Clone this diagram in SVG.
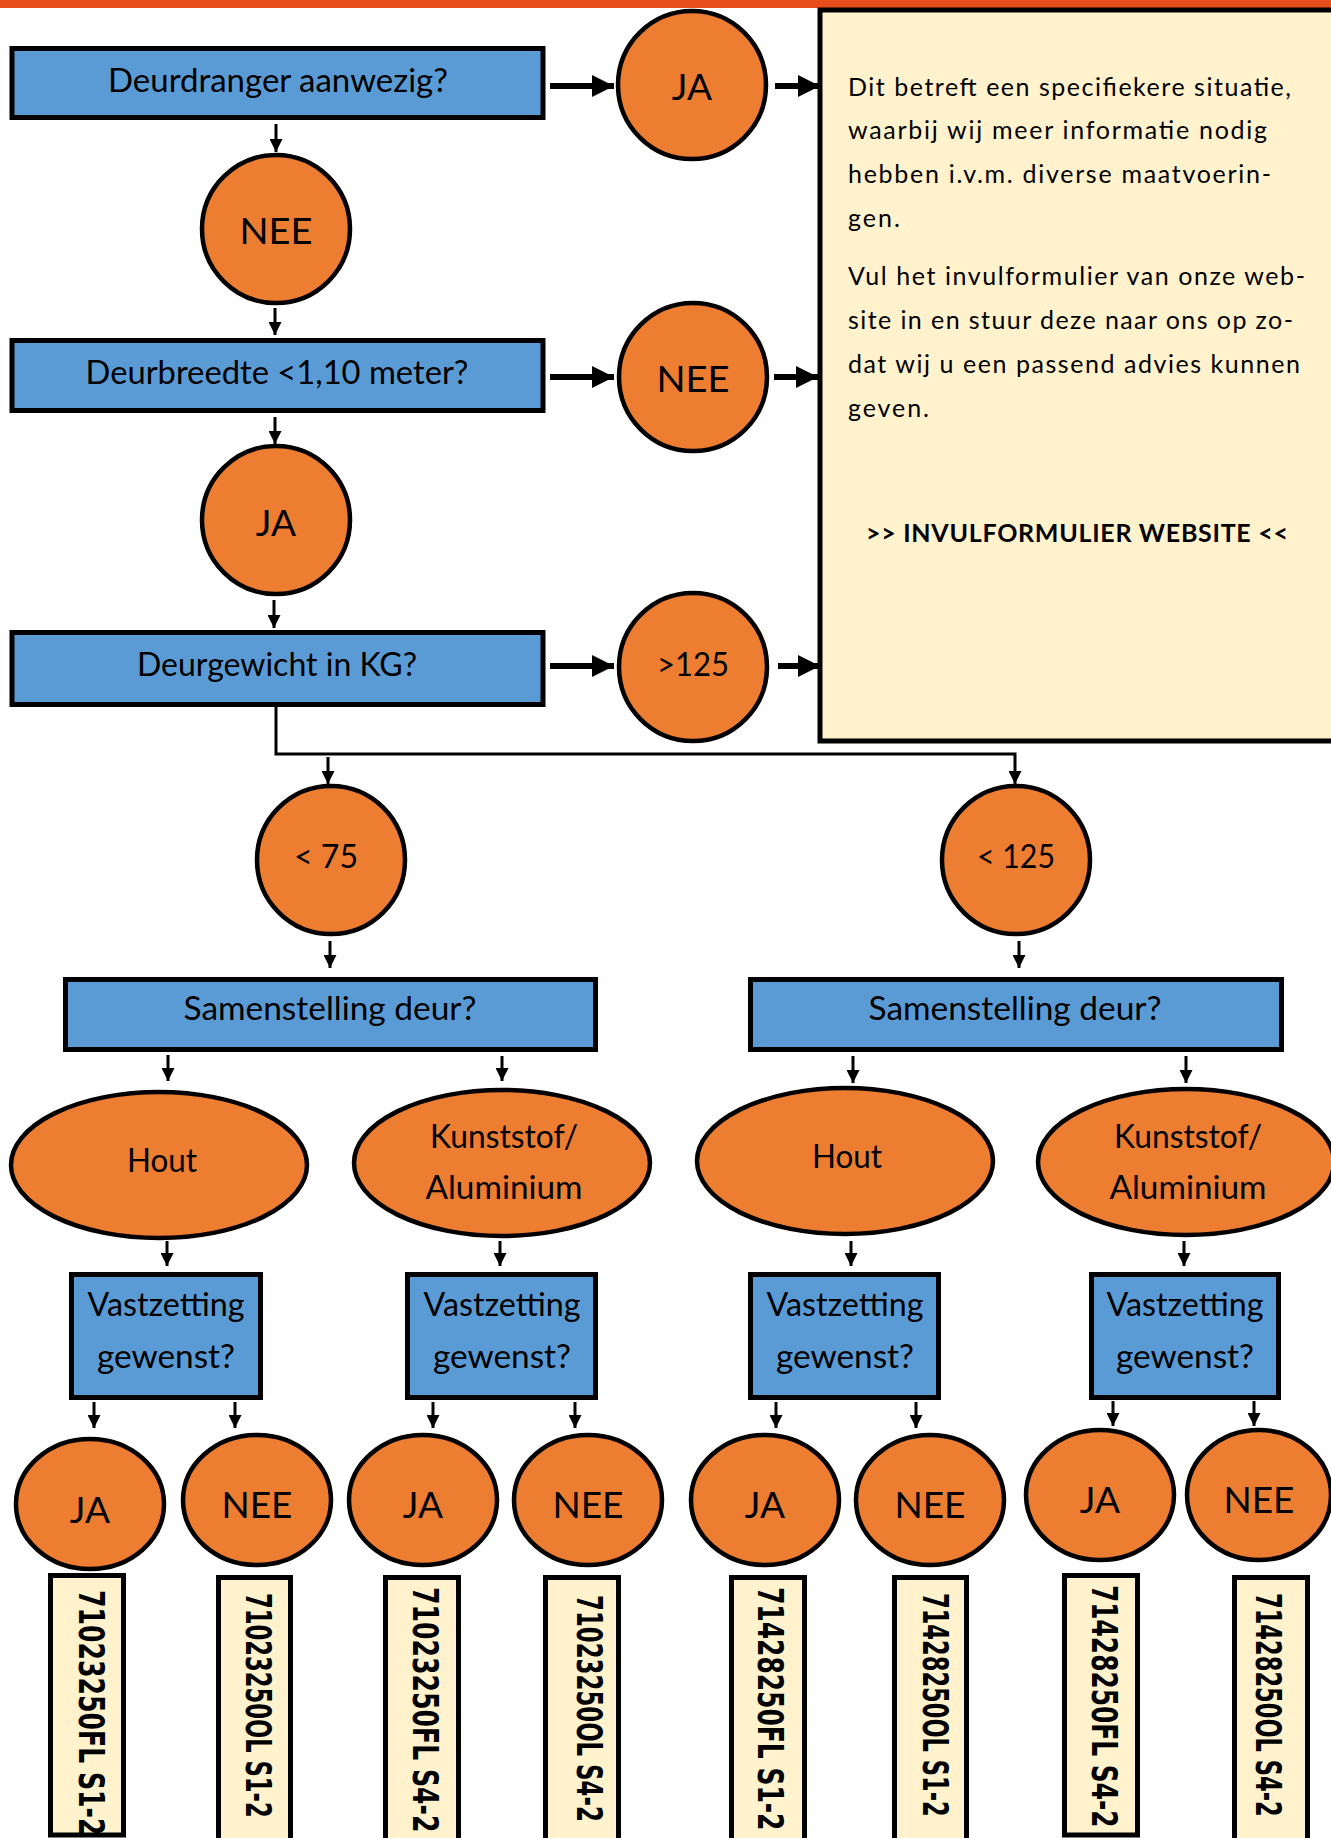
<svg xmlns="http://www.w3.org/2000/svg" width="1331" height="1838" viewBox="0 0 1331 1838">
<style>
.q{fill:#5B9BD5;stroke:#000;stroke-width:5}
.o{fill:#ED7D31;stroke:#000;stroke-width:4.5}
.y{fill:#FFF2CC;stroke:#000;stroke-width:5}
.t{font-family:Lato,"Liberation Sans",Arial,sans-serif;font-size:33px;fill:#000;text-anchor:middle}
.c{font-family:Lato,"Liberation Sans",Arial,sans-serif;font-size:37px;fill:#000;text-anchor:middle}
.p{font-family:Lato,"Liberation Sans",Arial,sans-serif;font-size:25px;fill:#000}
.b{font-family:"DejaVu Sans",Verdana,sans-serif;font-size:35px;font-weight:bold;fill:#000}
.big{stroke:#000;stroke-width:6;fill:none;marker-end:url(#ah)}
.sm{stroke:#000;stroke-width:3;fill:none;marker-end:url(#as)}
</style>
<defs>
<marker id="ah" markerUnits="userSpaceOnUse" markerWidth="22" markerHeight="22" refX="22" refY="11" orient="auto"><path d="M0,0 L22,11 L0,22 Z" fill="#000"/></marker>
<marker id="as" markerUnits="userSpaceOnUse" markerWidth="13" markerHeight="13" refX="13" refY="6.5" orient="auto"><path d="M0,0 L13,6.5 L0,13 Z" fill="#000"/></marker>
</defs>
<rect x="0" y="0" width="1331" height="8" fill="#E84E1C"/>

<g id="info">
<rect class="y" x="820" y="10" width="540" height="731"/>
<text class="p" x="848" y="96" textLength="443" lengthAdjust="spacing">Dit betreft een specifiekere situatie,</text>
<text class="p" x="848" y="139" textLength="419" lengthAdjust="spacing">waarbij wij meer informatie nodig</text>
<text class="p" x="848" y="183" textLength="423" lengthAdjust="spacing">hebben i.v.m. diverse maatvoerin-</text>
<text class="p" x="848" y="227" textLength="52" lengthAdjust="spacing">gen.</text>
<text class="p" x="848" y="285" textLength="457" lengthAdjust="spacing">Vul het invulformulier van onze web-</text>
<text class="p" x="848" y="329" textLength="445" lengthAdjust="spacing">site in en stuur deze naar ons op zo-</text>
<text class="p" x="848" y="373" textLength="452" lengthAdjust="spacing">dat wij u een passend advies kunnen</text>
<text class="p" x="848" y="417" textLength="81" lengthAdjust="spacing">geven.</text>
<text class="p" x="866" y="542" font-weight="bold" textLength="422" lengthAdjust="spacing">&gt;&gt; INVULFORMULIER WEBSITE &lt;&lt;</text>
</g>

<g id="connectors">
<line class="big" x1="550" y1="86" x2="614" y2="86"/>
<line class="big" x1="775" y1="86" x2="820" y2="86"/>
<line class="big" x1="550" y1="377" x2="614" y2="377"/>
<line class="big" x1="774" y1="377" x2="818" y2="377"/>
<line class="big" x1="550" y1="666" x2="614" y2="666"/>
<line class="big" x1="778" y1="666" x2="820" y2="666"/>
<line class="sm" x1="276" y1="124" x2="276" y2="152"/>
<line class="sm" x1="275" y1="308" x2="275" y2="335"/>
<line class="sm" x1="275" y1="417" x2="275" y2="444"/>
<line class="sm" x1="274" y1="600" x2="274" y2="628"/>
<path class="sm" d="M276,707 V754 H1015 V784"/>
<line class="sm" x1="328" y1="757" x2="328" y2="784"/>
<line class="sm" x1="330" y1="941" x2="330" y2="968"/>
<line class="sm" x1="1019" y1="941" x2="1019" y2="968"/>
<line class="sm" x1="168" y1="1055" x2="168" y2="1081"/>
<line class="sm" x1="502" y1="1056" x2="502" y2="1081"/>
<line class="sm" x1="853" y1="1056" x2="853" y2="1083"/>
<line class="sm" x1="1186" y1="1056" x2="1186" y2="1083"/>
<line class="sm" x1="167" y1="1241" x2="167" y2="1266"/>
<line class="sm" x1="500" y1="1241" x2="500" y2="1266"/>
<line class="sm" x1="851" y1="1241" x2="851" y2="1266"/>
<line class="sm" x1="1184" y1="1241" x2="1184" y2="1266"/>
<line class="sm" x1="94" y1="1402" x2="94" y2="1428"/>
<line class="sm" x1="235" y1="1402" x2="235" y2="1428"/>
<line class="sm" x1="433" y1="1402" x2="433" y2="1428"/>
<line class="sm" x1="575" y1="1402" x2="575" y2="1428"/>
<line class="sm" x1="776" y1="1402" x2="776" y2="1428"/>
<line class="sm" x1="916" y1="1402" x2="916" y2="1428"/>
<line class="sm" x1="1113" y1="1401" x2="1113" y2="1426"/>
<line class="sm" x1="1254" y1="1401" x2="1254" y2="1426"/>
</g>

<g id="q-deurdranger"><rect class="q" x="12" y="48.5" width="531" height="69"/><text class="t" x="278" y="92" textLength="340" lengthAdjust="spacingAndGlyphs">Deurdranger aanwezig?</text></g>
<g id="c-ja-1"><circle class="o" cx="692" cy="85" r="74"/><text class="c" x="692" y="100">JA</text></g>
<g id="c-nee-1"><circle class="o" cx="276" cy="229" r="74"/><text class="c" x="276" y="244" textLength="73" lengthAdjust="spacingAndGlyphs">NEE</text></g>
<g id="q-deurbreedte"><rect class="q" x="12" y="340.5" width="531" height="70"/><text class="t" x="277" y="384" textLength="383" lengthAdjust="spacingAndGlyphs">Deurbreedte &lt;1,10 meter?</text></g>
<g id="c-nee-2"><circle class="o" cx="693" cy="377" r="74"/><text class="c" x="693" y="392" textLength="73" lengthAdjust="spacingAndGlyphs">NEE</text></g>
<g id="c-ja-2"><circle class="o" cx="276" cy="520" r="74"/><text class="c" x="276" y="536">JA</text></g>
<g id="q-deurgewicht"><rect class="q" x="12" y="632.5" width="531" height="72"/><text class="t" x="277" y="676" textLength="280" lengthAdjust="spacingAndGlyphs">Deurgewicht in KG?</text></g>
<g id="c-gt125"><circle class="o" cx="693" cy="667" r="74"/><text class="t" x="693" y="676" font-size="31" textLength="72" lengthAdjust="spacingAndGlyphs">&gt;125</text></g>
<g id="c-lt75"><ellipse class="o" cx="331" cy="860" rx="74" ry="74"/><text class="t" x="326" y="868" font-size="31" textLength="64" lengthAdjust="spacingAndGlyphs">&lt; 75</text></g>
<g id="c-lt125"><ellipse class="o" cx="1016" cy="860" rx="74" ry="74"/><text class="t" x="1016" y="868" font-size="31" textLength="78" lengthAdjust="spacingAndGlyphs">&lt; 125</text></g>
<g id="q-samenstelling-1"><rect class="q" x="65.5" y="979.5" width="530" height="70"/><text class="t" x="330" y="1020" textLength="293" lengthAdjust="spacingAndGlyphs">Samenstelling deur?</text></g>
<g id="q-samenstelling-2"><rect class="q" x="750.5" y="979.5" width="531" height="70"/><text class="t" x="1015" y="1020" textLength="293" lengthAdjust="spacingAndGlyphs">Samenstelling deur?</text></g>
<g id="e-hout-1"><ellipse class="o" cx="159" cy="1165" rx="148" ry="73"/><text class="t" x="162" y="1172" textLength="70" lengthAdjust="spacingAndGlyphs">Hout</text></g>
<g id="e-kunst-1"><ellipse class="o" cx="502" cy="1163" rx="148" ry="73"/><text class="t" x="504" y="1148" textLength="148" lengthAdjust="spacingAndGlyphs">Kunststof/</text><text class="t" x="504" y="1199" textLength="157" lengthAdjust="spacingAndGlyphs">Aluminium</text></g>
<g id="e-hout-2"><ellipse class="o" cx="845" cy="1161" rx="148" ry="73"/><text class="t" x="847" y="1168" textLength="70" lengthAdjust="spacingAndGlyphs">Hout</text></g>
<g id="e-kunst-2"><ellipse class="o" cx="1186" cy="1162" rx="148" ry="73"/><text class="t" x="1188" y="1148" textLength="148" lengthAdjust="spacingAndGlyphs">Kunststof/</text><text class="t" x="1188" y="1199" textLength="157" lengthAdjust="spacingAndGlyphs">Aluminium</text></g>
<g id="q-vast-1"><rect class="q" x="71.5" y="1274.5" width="189" height="123"/><text class="t" x="166" y="1316" textLength="157" lengthAdjust="spacingAndGlyphs">Vastzetting</text><text class="t" x="166" y="1368" textLength="138" lengthAdjust="spacingAndGlyphs">gewenst?</text></g>
<g id="q-vast-2"><rect class="q" x="407.5" y="1274.5" width="188" height="123"/><text class="t" x="502" y="1316" textLength="157" lengthAdjust="spacingAndGlyphs">Vastzetting</text><text class="t" x="502" y="1368" textLength="138" lengthAdjust="spacingAndGlyphs">gewenst?</text></g>
<g id="q-vast-3"><rect class="q" x="750.5" y="1274.5" width="188" height="123"/><text class="t" x="845" y="1316" textLength="157" lengthAdjust="spacingAndGlyphs">Vastzetting</text><text class="t" x="845" y="1368" textLength="138" lengthAdjust="spacingAndGlyphs">gewenst?</text></g>
<g id="q-vast-4"><rect class="q" x="1091.5" y="1274.5" width="187" height="123"/><text class="t" x="1185" y="1316" textLength="157" lengthAdjust="spacingAndGlyphs">Vastzetting</text><text class="t" x="1185" y="1368" textLength="138" lengthAdjust="spacingAndGlyphs">gewenst?</text></g>

<g id="c-ja-a"><ellipse class="o" cx="90" cy="1504" rx="74" ry="65"/><text class="c" x="90" y="1523">JA</text></g>
<g id="c-nee-a"><ellipse class="o" cx="257" cy="1500" rx="74" ry="65"/><text class="c" x="257" y="1518" textLength="71" lengthAdjust="spacingAndGlyphs">NEE</text></g>
<g id="c-ja-b"><ellipse class="o" cx="423" cy="1500" rx="74" ry="65"/><text class="c" x="423" y="1518">JA</text></g>
<g id="c-nee-b"><ellipse class="o" cx="588" cy="1500" rx="74" ry="65"/><text class="c" x="588" y="1518" textLength="71" lengthAdjust="spacingAndGlyphs">NEE</text></g>
<g id="c-ja-c"><ellipse class="o" cx="765" cy="1500" rx="74" ry="65"/><text class="c" x="765" y="1518">JA</text></g>
<g id="c-nee-c"><ellipse class="o" cx="930" cy="1500" rx="74" ry="65"/><text class="c" x="930" y="1518" textLength="71" lengthAdjust="spacingAndGlyphs">NEE</text></g>
<g id="c-ja-d"><ellipse class="o" cx="1100" cy="1495" rx="74" ry="65"/><text class="c" x="1100" y="1513">JA</text></g>
<g id="c-nee-d"><ellipse class="o" cx="1259" cy="1495" rx="72" ry="65"/><text class="c" x="1259" y="1513" textLength="71" lengthAdjust="spacingAndGlyphs">NEE</text></g>

<g id="r-1"><rect class="y" x="50.5" y="1575.5" width="73" height="259.5"/><text class="b" transform="translate(79,1590) rotate(90) scale(0.719,1)">71023250FL S1-2</text></g>
<g id="r-2"><rect class="y" x="218.5" y="1577.5" width="72" height="270"/><text class="b" transform="translate(246,1593) rotate(90) scale(0.647,1)">71023250OL S1-2</text></g>
<g id="r-3"><rect class="y" x="385.5" y="1577.5" width="73" height="270"/><text class="b" transform="translate(413,1587) rotate(90) scale(0.719,1)">71023250FL S4-2</text></g>
<g id="r-4"><rect class="y" x="545.5" y="1577.5" width="73" height="270"/><text class="b" transform="translate(577,1595) rotate(90) scale(0.653,1)">71023250OL S4-2</text></g>
<g id="r-5"><rect class="y" x="731.5" y="1577.5" width="73" height="270"/><text class="b" transform="translate(758,1587) rotate(90) scale(0.713,1)">71428250FL S1-2</text></g>
<g id="r-6"><rect class="y" x="894.5" y="1577.5" width="72" height="270"/><text class="b" transform="translate(923,1593) rotate(90) scale(0.644,1)">71428250OL S1-2</text></g>
<g id="r-7"><rect class="y" x="1064.5" y="1575.5" width="73" height="259.5"/><text class="b" transform="translate(1092,1585) rotate(90) scale(0.710,1)">71428250FL S4-2</text></g>
<g id="r-8"><rect class="y" x="1234.5" y="1577.5" width="73" height="270"/><text class="b" transform="translate(1256,1593) rotate(90) scale(0.644,1)">71428250OL S4-2</text></g>
</svg>
